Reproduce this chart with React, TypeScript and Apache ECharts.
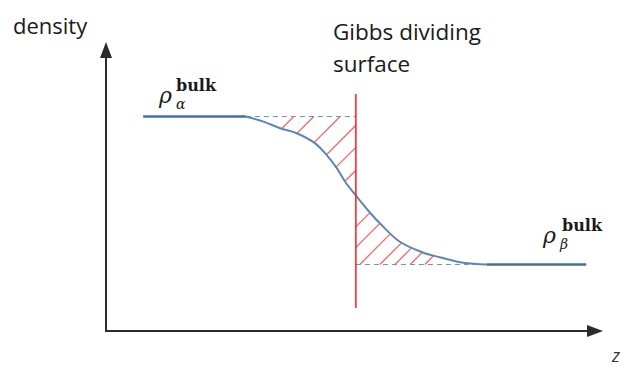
import React, { useEffect, useRef } from "react";
import * as echarts from "echarts";

// Axis extents (arbitrary units along z and density)
const zRange = [0, 10];
const densityRange = [0, 1.31];

// Bulk densities of the two phases
const rhoAlpha = 1.0;
const rhoBeta = 0.31;

// Bulk plateaus [start z, end z]
const alphaPlateauZ = [0.76, 2.86];
const betaPlateauZ = [7.79, 9.82];

// Interfacial density profile
const profileZ = [2.86, 3.22, 3.59, 3.9, 4.27, 4.51, 4.72, 4.89, 5.11, 5.41, 5.6, 6.01, 6.49, 6.83, 7.31, 7.79];
const profileDensity = [1.0, 0.976, 0.943, 0.922, 0.876, 0.821, 0.759, 0.696, 0.632, 0.549, 0.502, 0.416, 0.365, 0.344, 0.318, 0.31];

// Gibbs dividing surface position and the drawn extent of its marker
const gibbsZ = 5.11;
const gibbsSpan = [0.107, 1.105];

// Hatch lines: z where each 45° line meets the bulk level
const alphaHatchZ = [3.84, 4.25, 4.79, 5.29, 5.74, 6.21];
const betaHatchZ = [4.34, 4.76, 5.19, 5.6, 5.91, 6.22, 6.52];

const WIDTH = 627;
const HEIGHT = 367;
const GRID = { left: 106, right: 32, top: 50, bottom: 36 };

function profileAt(z: number): number {
  if (z <= profileZ[0]) return profileDensity[0];
  const n = profileZ.length;
  if (z >= profileZ[n - 1]) return profileDensity[n - 1];
  for (let i = 1; i < n; i++) {
    if (z <= profileZ[i]) {
      const t = (z - profileZ[i - 1]) / (profileZ[i] - profileZ[i - 1]);
      return profileDensity[i - 1] + t * (profileDensity[i] - profileDensity[i - 1]);
    }
  }
  return profileDensity[n - 1];
}

// root of profile(z) - line(z) on [lo, hi] (profile falls, line rises)
function meet(line: (z: number) => number, lo: number, hi: number): number {
  for (let i = 0; i < 60; i++) {
    const mid = (lo + hi) / 2;
    if (profileAt(mid) - line(mid) > 0) lo = mid;
    else hi = mid;
  }
  return (lo + hi) / 2;
}

function hatchSegments() {
  const plotW = WIDTH - GRID.left - GRID.right;
  const plotH = HEIGHT - GRID.top - GRID.bottom;
  // slope (density per z) of a 45° line on screen
  const k = plotW / (zRange[1] - zRange[0]) / (plotH / (densityRange[1] - densityRange[0]));
  const segs: number[][][] = [];
  alphaHatchZ.forEach((a) => {
    const line = (z: number) => rhoAlpha + k * (z - a);
    const zEnd = Math.min(a, gibbsZ);
    const zStart = meet(line, profileZ[0], zEnd);
    segs.push([
      [zStart, line(zStart)],
      [zEnd, line(zEnd)],
    ]);
  });
  betaHatchZ.forEach((b) => {
    const line = (z: number) => rhoBeta + k * (z - b);
    const zStart = Math.max(b, gibbsZ);
    const zEnd = meet(line, zStart, profileZ[profileZ.length - 1]);
    segs.push([
      [zStart, line(zStart)],
      [zEnd, line(zEnd)],
    ]);
  });
  return segs;
}

export default function App() {
  const ref = useRef<HTMLDivElement>(null);

  useEffect(() => {
    if (!ref.current) return;
    const chart = echarts.init(ref.current, null, { renderer: "svg" });

    const axisLine = {
      show: true,
      symbol: ["none", "triangle"],
      symbolSize: [12, 16],
      lineStyle: { color: "#2b2b2b", width: 2 },
    };
    const hidden = {
      axisTick: { show: false },
      axisLabel: { show: false },
      splitLine: { show: false },
    };

    const profile = profileZ.map((z, i) => [z, profileDensity[i]]);
    const lineBase = { type: "line", symbol: "none", silent: true, z: 3 };
    const serif = "'DejaVu Serif', 'Liberation Serif', serif";
    const sans = "'Open Sans', 'Noto Sans', sans-serif";

    chart.setOption({
      animation: false,
      backgroundColor: "#ffffff",
      grid: GRID,
      xAxis: {
        type: "value",
        min: zRange[0],
        max: zRange[1],
        axisLine,
        ...hidden,
      },
      yAxis: {
        type: "value",
        min: densityRange[0],
        max: densityRange[1],
        axisLine,
        ...hidden,
      },
      series: [
        {
          type: "lines",
          coordinateSystem: "cartesian2d",
          silent: true,
          z: 1,
          lineStyle: { color: "#ff5c5c", width: 1.2, opacity: 1 },
          data: hatchSegments().map((coords) => ({ coords })),
        },
        {
          ...lineBase,
          z: 2,
          data: [
            [alphaPlateauZ[1], rhoAlpha],
            [gibbsZ, rhoAlpha],
          ],
          lineStyle: { color: "#5b9bd5", width: 1, type: [5, 4] },
        },
        {
          ...lineBase,
          z: 2,
          data: [
            [gibbsZ, rhoBeta],
            [betaPlateauZ[0], rhoBeta],
          ],
          lineStyle: { color: "#5b9bd5", width: 1, type: [5, 4] },
        },
        {
          ...lineBase,
          data: profile,
          smooth: 0.35,
          lineStyle: { color: "#5f86b3", width: 2 },
        },
        {
          ...lineBase,
          data: alphaPlateauZ.map((z) => [z, rhoAlpha]),
          lineStyle: { color: "#41719c", width: 2.5 },
        },
        {
          ...lineBase,
          data: betaPlateauZ.map((z) => [z, rhoBeta]),
          lineStyle: { color: "#41719c", width: 2.5 },
        },
        {
          ...lineBase,
          z: 4,
          data: gibbsSpan.map((d) => [gibbsZ, d]),
          lineStyle: { color: "#ff1a1a", width: 1.5 },
        },
      ],
      graphic: [
        {
          type: "text",
          x: 13,
          y: 24.5,
          style: { text: "density", font: `22px ${sans}`, fill: "#1a1a1a", verticalAlign: "middle" },
        },
        {
          type: "text",
          x: 333,
          y: 15,
          style: {
            text: "Gibbs dividing\nsurface",
            font: `22.5px ${sans}`,
            lineHeight: 32,
            fill: "#1a1a1a",
            verticalAlign: "top",
          },
        },
        {
          type: "text",
          x: 612,
          y: 355,
          style: {
            text: "z",
            font: `italic 18px ${sans}`,
            lineHeight: 16,
            fill: "#333333",
            verticalAlign: "middle",
          },
        },
        // ρ_α^bulk
        {
          type: "text",
          x: 159,
          y: 95.5,
          style: { text: "ρ", font: `italic 22px ${serif}`, lineHeight: 18, fill: "#1a1a1a", verticalAlign: "middle" },
        },
        {
          type: "text",
          x: 176,
          y: 104,
          style: { text: "α", font: `italic 14px ${serif}`, lineHeight: 11, fill: "#1a1a1a", verticalAlign: "middle" },
        },
        {
          type: "text",
          x: 176,
          y: 85.5,
          style: { text: "bulk", font: `bold 16px ${serif}`, lineHeight: 12, fill: "#1a1a1a", verticalAlign: "middle" },
        },
        // ρ_β^bulk
        {
          type: "text",
          x: 543,
          y: 235.5,
          style: { text: "ρ", font: `italic 22px ${serif}`, lineHeight: 18, fill: "#1a1a1a", verticalAlign: "middle" },
        },
        {
          type: "text",
          x: 560,
          y: 243.5,
          style: { text: "β", font: `italic 14px ${serif}`, lineHeight: 11, fill: "#1a1a1a", verticalAlign: "middle" },
        },
        {
          type: "text",
          x: 562,
          y: 225.5,
          style: { text: "bulk", font: `bold 16px ${serif}`, lineHeight: 12, fill: "#1a1a1a", verticalAlign: "middle" },
        },
      ],
    });

    return () => chart.dispose();
  }, []);

  return (
    <div
      ref={ref}
      style={{ position: "fixed", left: 0, top: 0, width: WIDTH, height: HEIGHT, background: "#ffffff" }}
    />
  );
}
